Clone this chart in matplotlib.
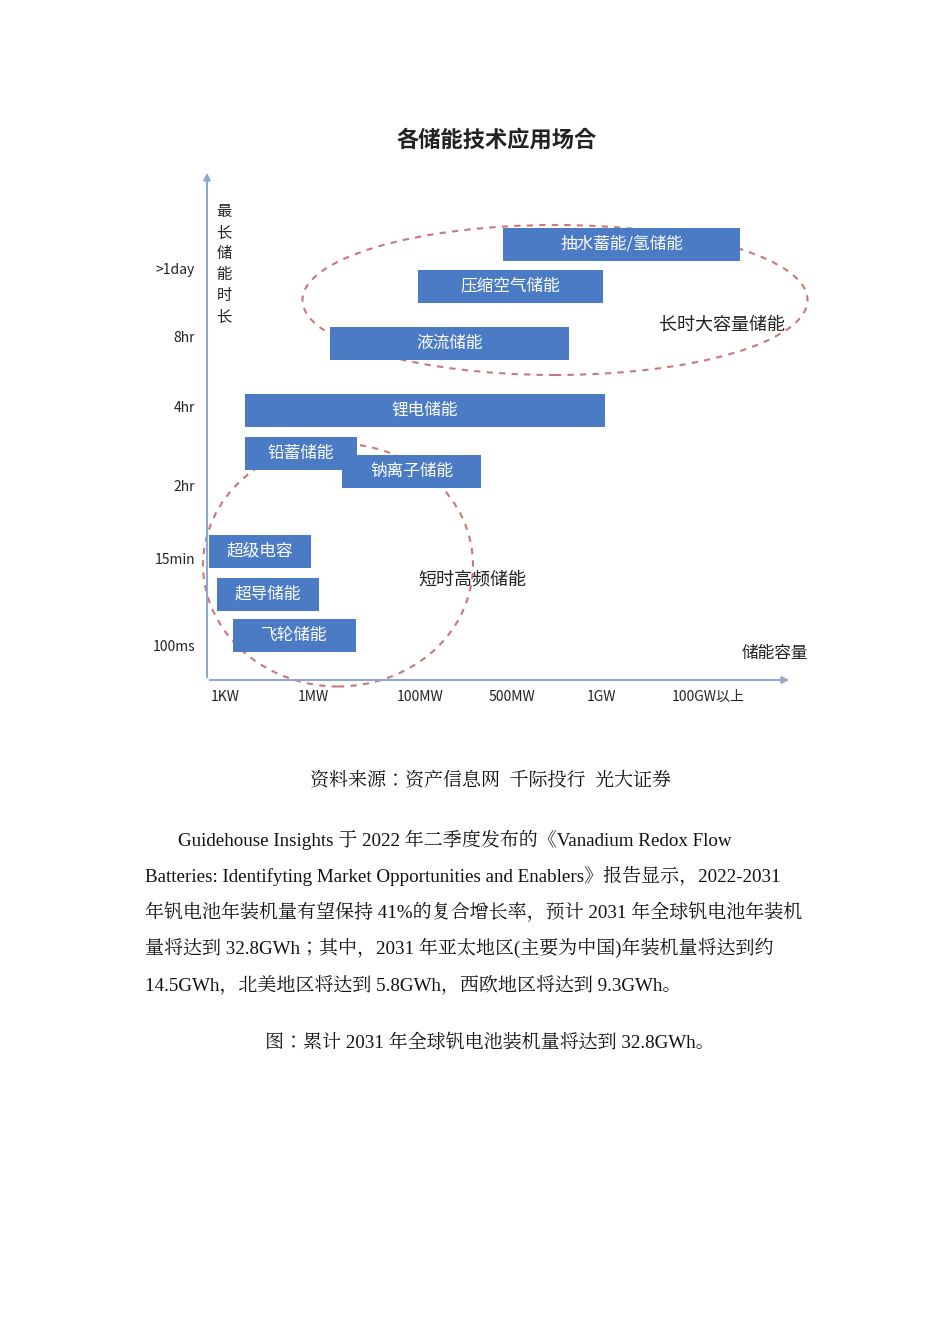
import matplotlib
matplotlib.use("Agg")
import matplotlib.pyplot as plt
from matplotlib.patches import Ellipse

SANS = ['Noto Sans CJK JP', 'Noto Sans CJK SC', 'DejaVu Sans']
SERIF = ['Liberation Serif', 'Noto Serif CJK JP', 'Noto Sans CJK JP']
plt.rcParams['font.family'] = SANS

# data (x: capacity scale position, y: duration scale position)
techs = ['抽水蓄能/氢储能', '压缩空气储能', '液流储能', '锂电储能', '铅蓄储能',
         '钠离子储能', '超级电容', '超导储能', '飞轮储能']
x_start = [2.96, 2.11, 1.23, 0.38, 0.38, 1.35, 0.02, 0.10, 0.26]
x_end = [5.33, 3.96, 3.62, 3.98, 1.50, 2.74, 1.04, 1.12, 1.49]
y_mid = [4.36, 3.94, 3.37, 2.70, 2.27, 2.09, 1.29, 0.86, 0.45]
x_ticks = [0.18, 1.06, 2.13, 3.05, 3.94, 5.01]
x_labels = ['1KW', '1MW', '100MW', '500MW', '1GW', '100GW以上']
y_ticks = [4.10, 3.42, 2.72, 1.93, 1.20, 0.33]
y_labels = ['>1day', '8hr', '4hr', '2hr', '15min', '100ms']

W, H = 950, 1344
fig = plt.figure(figsize=(9.5, 13.44), dpi=100)
ax = fig.add_axes([207 / W, 1 - 680 / H, 583 / W, 505 / H])
ax.set_xlim(0, 5.83)
ax.set_ylim(0, 5.05)
ax.axis('off')

blue = '#4a7bc4'
for t, a, b, y in zip(techs, x_start, x_end, y_mid):
    ax.barh(y, b - a, left=a, height=0.33, color=blue, zorder=2)
    ax.text((a + b) / 2, y, t, color='white', ha='center', va='center', fontsize=12, zorder=3)

for x, l in zip(x_ticks, x_labels):
    ax.text(x, -0.17, l, ha='center', va='center', fontsize=10, color='#222')
for y, l in zip(y_ticks, y_labels):
    ax.text(-0.12, y, l, ha='right', va='center', fontsize=10, color='#222')

ax.annotate('', xy=(5.85, 0), xytext=(0, 0), annotation_clip=False,
            arrowprops=dict(arrowstyle='-|>', color='#8fa8d0', lw=1.5))
ax.annotate('', xy=(0, 5.1), xytext=(0, 0), annotation_clip=False,
            arrowprops=dict(arrowstyle='-|>', color='#8fa8d0', lw=1.5))

ell_col = '#c9787a'
ax.add_patch(Ellipse((3.48, 3.80), 5.05, 1.50, fill=False, ls=(0, (3, 3)), lw=1.5,
                     edgecolor=ell_col, clip_on=False))
ax.add_patch(Ellipse((1.31, 1.15), 2.70, 2.43, fill=False, ls=(0, (3, 3)), lw=1.5,
                     edgecolor=ell_col, clip_on=False))

ax.text(5.15, 3.55, '长时大容量储能', ha='center', va='center', fontsize=13, color='#222')
ax.text(2.65, 1.00, '短时高频储能', ha='center', va='center', fontsize=13, color='#222')
ax.text(5.68, 0.27, '储能容量', ha='center', va='center', fontsize=12, color='#222')
ax.text(0.17, 4.16, '最\n长\n储\n能\n时\n长', ha='center', va='center', fontsize=11,
        color='#222', linespacing=1.3)

fig.text(497 / W, 1 - 140 / H, '各储能技术应用场合', ha='center', va='center',
         fontsize=16, fontweight='bold', color='#222')

fig.text(490 / W, 1 - 781 / H, '资料来源：资产信息网  千际投行  光大证券',
         ha='center', va='center', fontsize=13.7, color='#111', family=SERIF)

lines = [
    (178, 'Guidehouse Insights 于 2022 年二季度发布的《Vanadium Redox Flow'),
    (145, 'Batteries: Identifyting Market Opportunities and Enablers》报告显示，2022-2031'),
    (145, '年钒电池年装机量有望保持 41%的复合增长率，预计 2031 年全球钒电池年装机'),
    (145, '量将达到 32.8GWh；其中，2031 年亚太地区(主要为中国)年装机量将达到约'),
    (145, '14.5GWh，北美地区将达到 5.8GWh，西欧地区将达到 9.3GWh。'),
]
for i, (x, s) in enumerate(lines):
    fig.text(x / W, 1 - (840 + 36 * i) / H, s, ha='left', va='center', fontsize=13.7,
             color='#111', family=SERIF)

fig.text(490 / W, 1 - 1043 / H, '图：累计 2031 年全球钒电池装机量将达到 32.8GWh。',
         ha='center', va='center', fontsize=13.7, color='#111', family=SERIF)

fig.savefig('out.png', dpi=100, facecolor='white')
